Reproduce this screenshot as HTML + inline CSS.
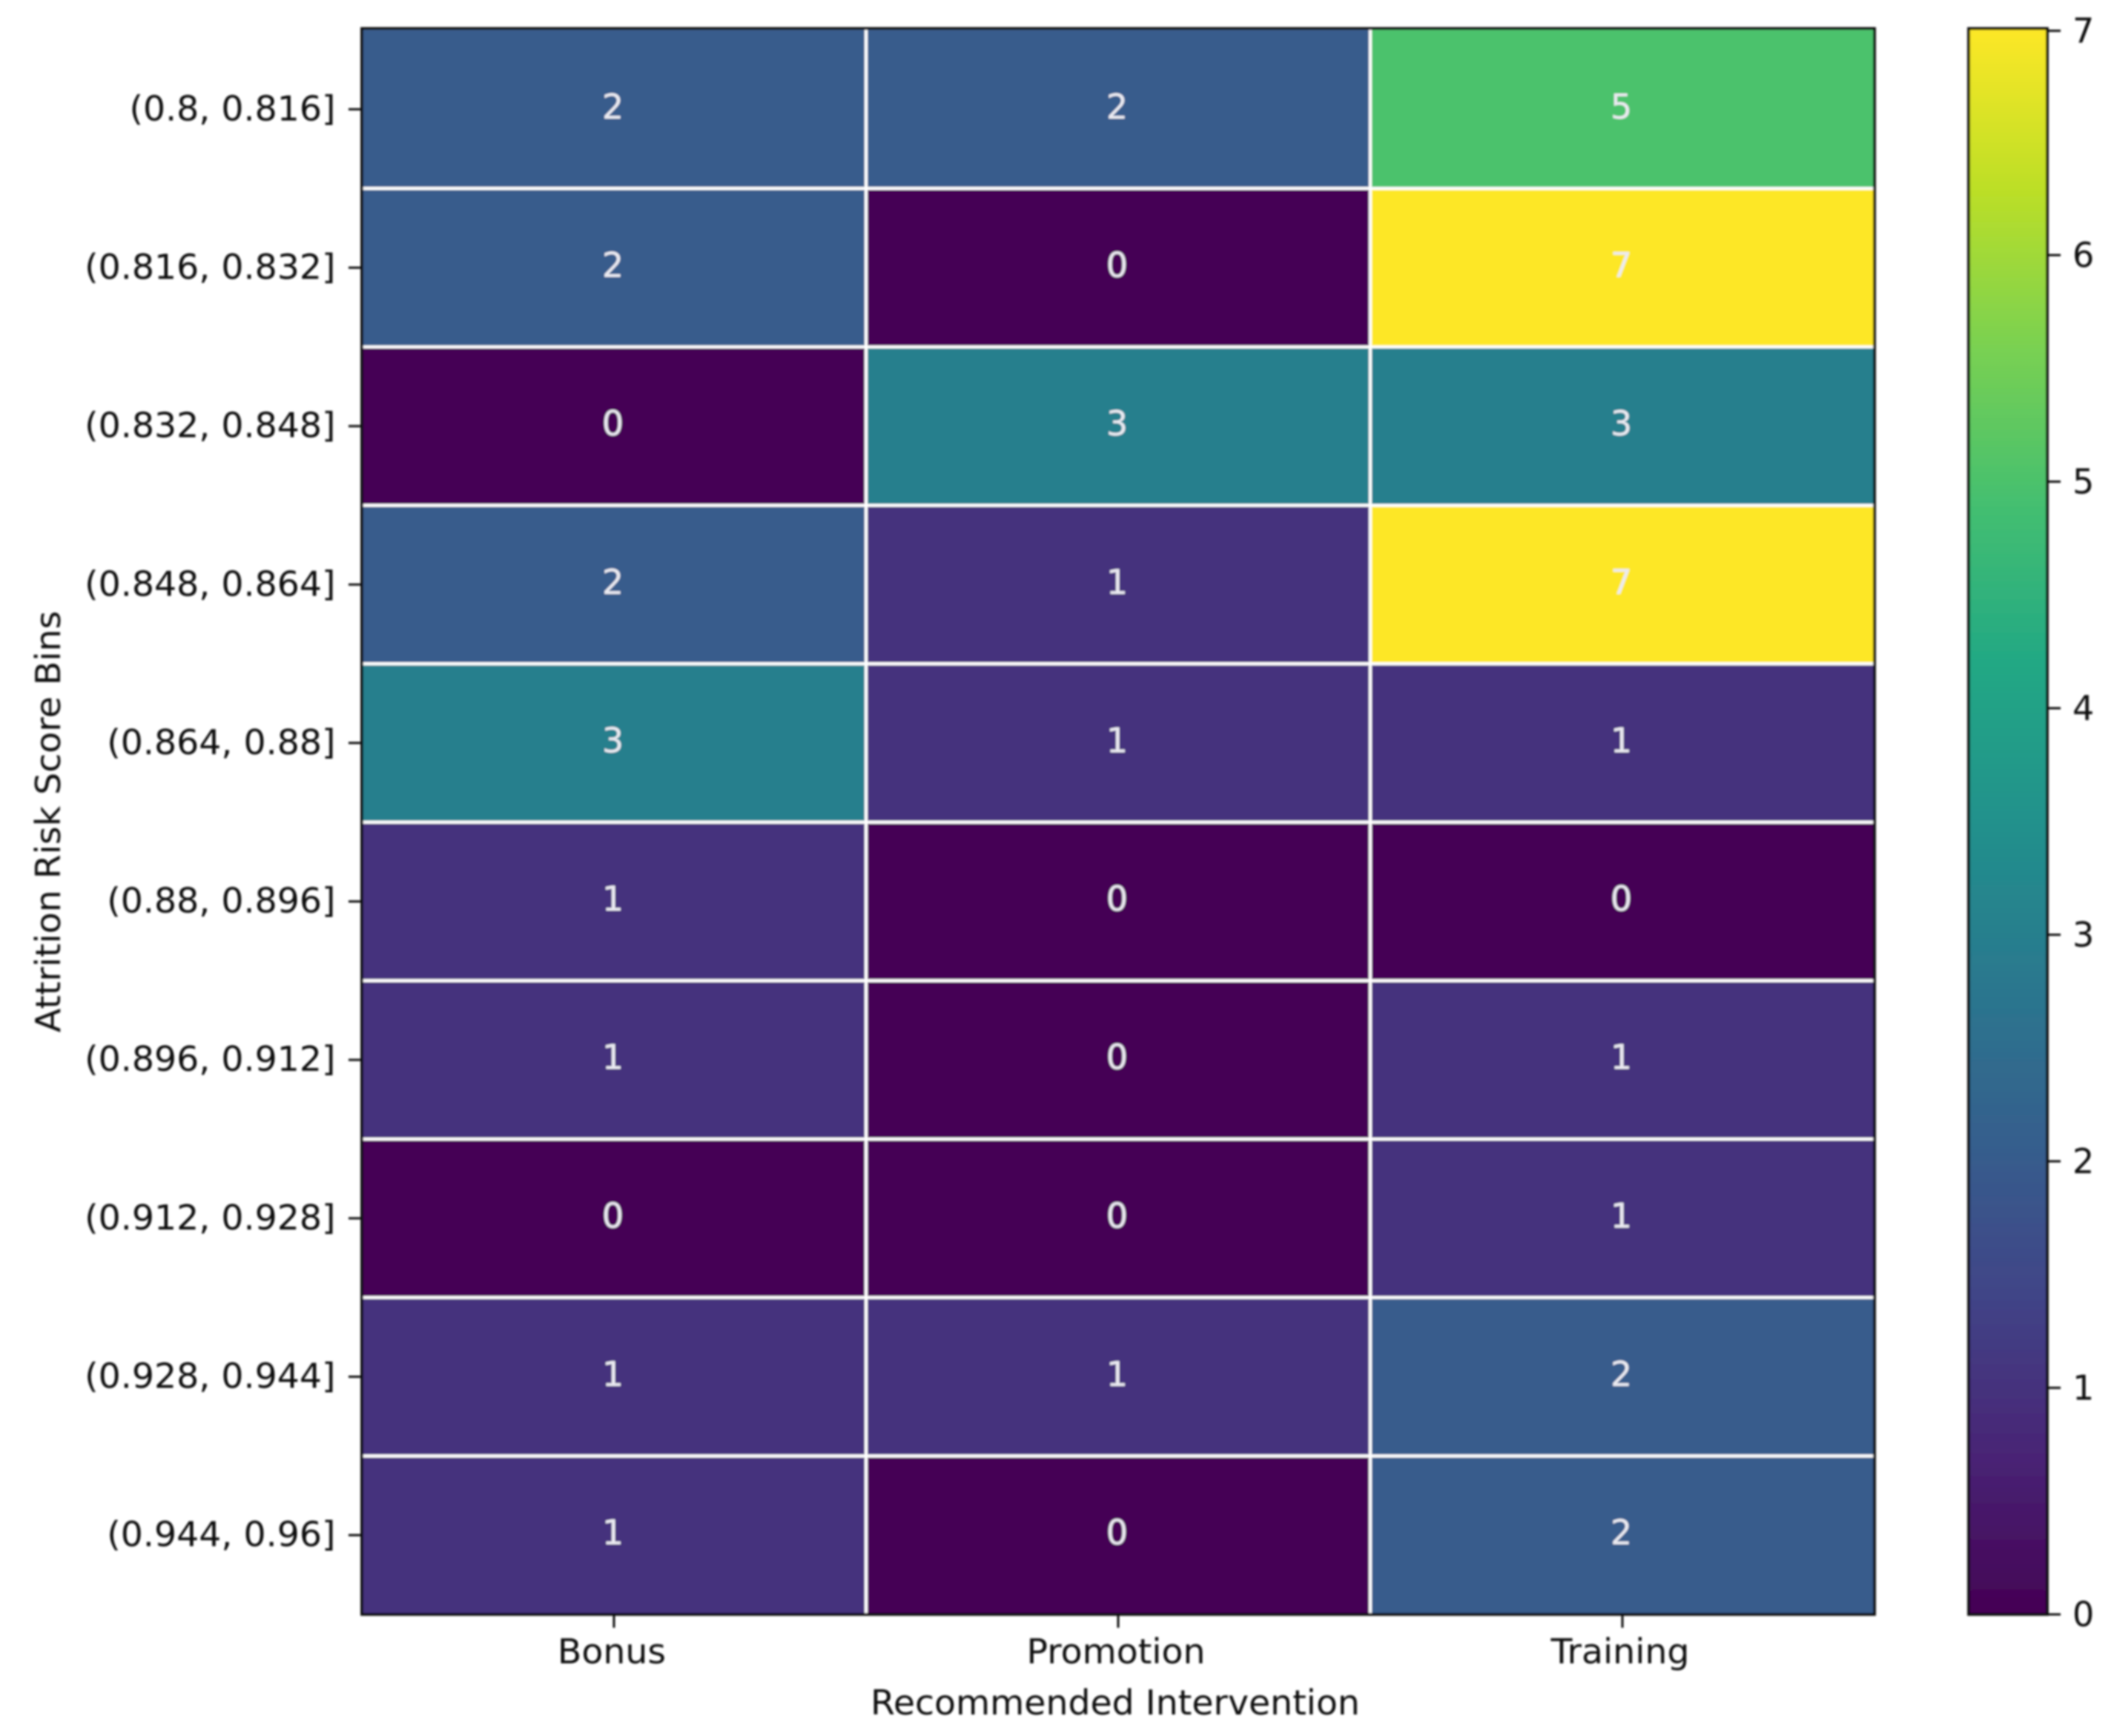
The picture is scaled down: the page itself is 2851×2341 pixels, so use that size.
<!DOCTYPE html>
<html lang="en">
<head>
<meta charset="utf-8">
<title>Attrition Risk Score Bins by Recommended Intervention</title>
<style>
html,body{margin:0;padding:0;background:#fff;}
svg{display:block;}
text{font-family:"DejaVu Sans","Liberation Sans",sans-serif;}
</style>
</head>
<body>
<svg id="chart" xmlns="http://www.w3.org/2000/svg" width="2851" height="2341" viewBox="0 0 2851 2341">
<defs>
<filter id="soft" x="0" y="0" width="100%" height="100%" filterUnits="userSpaceOnUse" primitiveUnits="userSpaceOnUse"><feGaussianBlur stdDeviation="1.4"/></filter>
<linearGradient id="cbar-gradient" x1="0" y1="1" x2="0" y2="0"></linearGradient>
</defs>
<rect width="2851" height="2341" fill="#ffffff"/>
<g id="root" filter="url(#soft)"></g>
</svg>
<script>
const binLabels = ["(0.8, 0.816]","(0.816, 0.832]","(0.832, 0.848]","(0.848, 0.864]","(0.864, 0.88]","(0.88, 0.896]","(0.896, 0.912]","(0.912, 0.928]","(0.928, 0.944]","(0.944, 0.96]"];
const interventions = ["Bonus","Promotion","Training"];
const bonusCounts = [2,2,0,2,3,1,1,0,1,1];
const promotionCounts = [2,0,3,1,1,0,0,0,1,0];
const trainingCounts = [5,7,3,7,1,0,1,1,2,2];
const colorbarTicks = [0,1,2,3,4,5,6,7];
const xAxisTitle = "Recommended Intervention";
const yAxisTitle = "Attrition Risk Score Bins";

const seriesByColumn = [bonusCounts, promotionCounts, trainingCounts];
const NS = "http://www.w3.org/2000/svg";
const root = document.getElementById("root");
const plot = {left: 488, right: 2528, top: 40.5, bottom: 2177};
const cbar = {left: 2655, right: 2761, top: 38.5, bottom: 2177};
const FONT = 46;
const STRETCH = "scale(1.03 1)";
const viridis = ["#440154","#482475","#414487","#355f8d","#2a788e","#21918c","#22a884","#44bf70","#7ad151","#bddf26","#fde725"];
const allValues = seriesByColumn.flat();
const vMin = Math.min(0, Math.min.apply(null, allValues));
const vMax = Math.max(...allValues, colorbarTicks[colorbarTicks.length - 1]);

function hexToRgb(h){return [1,3,5].map(function(i){return parseInt(h.substr(i,2),16);});}
function colorAt(t){
  const c = Math.max(0, Math.min(1, t)) * (viridis.length - 1);
  const i = Math.min(Math.floor(c), viridis.length - 2);
  const f = c - i;
  const a = hexToRgb(viridis[i]);
  const b = hexToRgb(viridis[i + 1]);
  return "rgb(" + a.map(function(v, k){return Math.round(v + (b[k] - v) * f);}).join(",") + ")";
}
function colorScale(v){return colorAt((v - vMin) / (vMax - vMin));}
function xScale(c){return plot.left + (plot.right - plot.left) * c / interventions.length;}
function yScale(r){return plot.top + (plot.bottom - plot.top) * r / binLabels.length;}
function cbarScale(v){return cbar.bottom - (cbar.bottom - cbar.top) * (v - vMin) / (vMax - vMin);}
function make(tag, attrs, parent){
  const el = document.createElementNS(NS, tag);
  for (const k in attrs) el.setAttribute(k, attrs[k]);
  (parent || root).appendChild(el);
  return el;
}
function place(x, y){return "translate(" + x + " " + y + ") " + STRETCH;}

/* heatmap cells */
const cellGroup = make("g", {});


seriesByColumn.forEach(function(series, c){
  series.forEach(function(value, r){
    const cell = make("rect", {x: xScale(c), y: yScale(r), width: xScale(c + 1) - xScale(c), height: yScale(r + 1) - yScale(r), fill: colorScale(value)}, cellGroup);
    
    
  });
});

/* grid lines between cells */
const gridGroup = make("g", {stroke: "#ffffff", "stroke-width": 4.2});


for (let r = 1; r < binLabels.length; r++) {
  make("line", {x1: plot.left, x2: plot.right, y1: yScale(r), y2: yScale(r)}, gridGroup);
}
for (let c = 1; c < interventions.length; c++) {
  make("line", {x1: xScale(c), x2: xScale(c), y1: plot.top, y2: plot.bottom}, gridGroup);
}

/* cell annotations */
const annoGroup = make("g", {});


seriesByColumn.forEach(function(series, c){
  series.forEach(function(value, r){
    const t = make("text", {x: (xScale(c) + xScale(c + 1)) / 2 - 1.5, y: (yScale(r) + yScale(r + 1)) / 2 + 12.5, "font-size": FONT, fill: "#ebebf2", "text-anchor": "middle"}, annoGroup);
    t.textContent = String(value);
    
    
  });
});

/* plot frame */
const frame = make("rect", {x: plot.left, y: 38.5, width: plot.right - plot.left, height: plot.bottom - 38.5, fill: "none", stroke: "#0a0a0a", "stroke-width": 3.8});



/* y axis */
const yAxis = make("g", {});


binLabels.forEach(function(label, r){
  const yc = (yScale(r) + yScale(r + 1)) / 2;
  const tick = make("line", {x1: plot.left - 18, x2: plot.left, y1: yc, y2: yc, stroke: "#111", "stroke-width": 3}, yAxis);
  
  
  const t = make("text", {transform: place(452.5, yc + 15), "font-size": FONT, fill: "#111", "text-anchor": "end"}, yAxis);
  t.textContent = label;
  
  
});
const yTitle = make("text", {transform: "translate(81 1108) rotate(-90) " + STRETCH, "font-size": FONT, fill: "#111", "text-anchor": "middle"});
yTitle.textContent = yAxisTitle;



/* x axis */
const xAxis = make("g", {});


interventions.forEach(function(label, c){
  const xc = (xScale(c) + xScale(c + 1)) / 2;
  const tick = make("line", {x1: xc, x2: xc, y1: plot.bottom, y2: plot.bottom + 18, stroke: "#111", "stroke-width": 3}, xAxis);
  
  
  const t = make("text", {transform: place(xc - 3, 2243), "font-size": FONT, fill: "#111", "text-anchor": "middle"}, xAxis);
  t.textContent = label;
  
  
});
const xTitle = make("text", {transform: place(1504, 2312), "font-size": FONT, fill: "#111", "text-anchor": "middle"});
xTitle.textContent = xAxisTitle;



/* colorbar */
const grad = document.getElementById("cbar-gradient");
viridis.forEach(function(col, i){
  const stop = document.createElementNS(NS, "stop");
  stop.setAttribute("offset", i / (viridis.length - 1));
  stop.setAttribute("stop-color", col);
  grad.appendChild(stop);
});
const cbarGroup = make("g", {});


const cbarRect = make("rect", {x: cbar.left, y: cbar.top, width: cbar.right - cbar.left, height: cbar.bottom - cbar.top, fill: "url(#cbar-gradient)", stroke: "#0a0a0a", "stroke-width": 3.8}, cbarGroup);


colorbarTicks.forEach(function(v){
  const y = v === vMax ? cbarScale(v) + 3 : cbarScale(v);
  const tick = make("line", {x1: cbar.right, x2: cbar.right + 18, y1: y, y2: y, stroke: "#111", "stroke-width": 3}, cbarGroup);
  
  
  const t = make("text", {x: 2795, y: y + 16, "font-size": FONT, fill: "#111"}, cbarGroup);
  t.textContent = String(v);
  
  
});
</script>
</body>
</html>
